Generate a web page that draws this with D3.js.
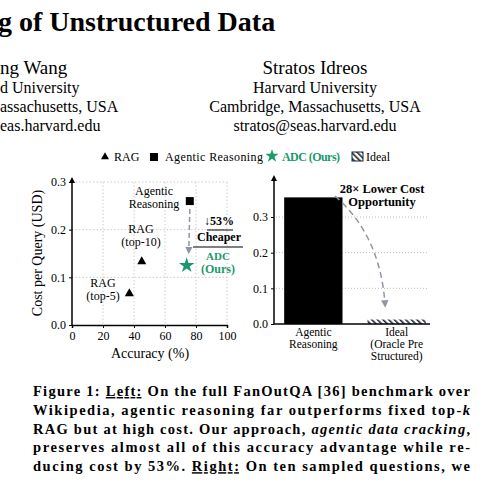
<!DOCTYPE html>
<html>
<head>
<meta charset='utf-8'>
<script src='https://cdn.jsdelivr.net/npm/d3@7'></script>
<style>body{margin:0;background:#fff} text{font-family:'Liberation Serif',serif}</style>
</head>
<body>
<svg width='500' height='480'></svg>
<script>
const svg = d3.select('svg')
const green = '#1a9a6c', gray = '#8e96a3'

// data
const points = [
  { name: 'RAG (top-5)', acc: 37, cost: 0.066, shape: 'tri' },
  { name: 'RAG (top-10)', acc: 45, cost: 0.133, shape: 'tri' },
  { name: 'Agentic Reasoning', acc: 76, cost: 0.26, shape: 'sq' },
  { name: 'ADC (Ours)', acc: 74, cost: 0.125, shape: 'star' }
]
const barCats = ['Agentic Reasoning', 'Ideal']
const barVals = [0.355, 0.0125]
const xTicks = [0, 20, 40, 60, 80, 100]
const yTicks = [0, 0.1, 0.2, 0.3]

// header text
const hdr = svg.append('g')
hdr.append('text').attr('x', -2).attr('y', 31).attr('font-size', 28).attr('font-weight', 'bold').text('g of Unstructured Data')
const aL = ['ng Wang', 'd University', 'assachusetts, USA', 'eas.harvard.edu']
const aR = ['Stratos Idreos', 'Harvard University', 'Cambridge, Massachusetts, USA', 'stratos@seas.harvard.edu']
const aY = [74, 93, 112, 131]
aL.forEach((t, i) => hdr.append('text').attr('x', 0).attr('y', aY[i]).attr('font-size', i ? 16 : 19).text(t))
aR.forEach((t, i) => hdr.append('text').attr('x', 315).attr('y', aY[i]).attr('text-anchor', 'middle').attr('font-size', i ? 16 : 19).text(t))

const defs = svg.append('defs')
defs.append('pattern').attr('id', 'hatch').attr('width', 4).attr('height', 4)
  .attr('patternUnits', 'userSpaceOnUse').attr('patternTransform', 'rotate(-45)')
  .append('rect').attr('width', 1.6).attr('height', 4).attr('fill', '#1a2233')
defs.append('marker').attr('id', 'ah').attr('viewBox', '0 0 10 10').attr('refX', 5).attr('refY', 5)
  .attr('markerWidth', 5).attr('markerHeight', 5).attr('orient', 'auto')
  .append('path').attr('d', 'M0,0L10,5L0,10z').attr('fill', gray)
defs.append('marker').attr('id', 'ax').attr('viewBox', '0 0 10 10').attr('refX', 5).attr('refY', 5)
  .attr('markerWidth', 4).attr('markerHeight', 4).attr('orient', 'auto')
  .append('path').attr('d', 'M0,0L10,5L0,10z').attr('fill', '#000')

// legend
const lg = svg.append('g').attr('font-size', 12)
lg.append('path').attr('d', d3.symbol(d3.symbolTriangle, 28)()).attr('transform', 'translate(105,157)')
lg.append('text').attr('x', 114).attr('y', 161).text('RAG')
lg.append('rect').attr('x', 150).attr('y', 153).attr('width', 8).attr('height', 8)
lg.append('text').attr('x', 165).attr('y', 161).attr('textLength', 98).text('Agentic Reasoning')
lg.append('path').attr('d', d3.symbol(d3.symbolStar, 55)()).attr('transform', 'translate(272,156)').attr('fill', green)
lg.append('text').attr('x', 282).attr('y', 161).attr('fill', green).attr('font-weight', 'bold').attr('textLength', 58).text('ADC (Ours)')
lg.append('rect').attr('x', 352).attr('y', 152).attr('width', 11).attr('height', 9).attr('fill', 'url(#hatch)').attr('stroke', '#1a2233')
lg.append('text').attr('x', 366).attr('y', 161).text('Ideal')

// left scatter
const x = d3.scaleLinear().domain([0, 100]).range([72, 227])
const y = d3.scaleLinear().domain([0, 0.3]).range([325, 182])
const L = svg.append('g')
L.append('g').selectAll('line.gx').data(xTicks.slice(1)).join('line')
  .attr('x1', d => x(d)).attr('x2', d => x(d)).attr('y1', 182).attr('y2', 325)
  .attr('stroke', '#ccc').attr('stroke-dasharray', '1.5,2')
L.append('g').selectAll('line.gy').data(yTicks.slice(1)).join('line')
  .attr('x1', 72).attr('x2', 227).attr('y1', d => y(d)).attr('y2', d => y(d))
  .attr('stroke', '#ccc').attr('stroke-dasharray', '1.5,2')
L.append('g').attr('transform', 'translate(0,325)')
  .call(d3.axisBottom(x).tickValues(xTicks).tickSize(3)).call(g => g.select('.domain').attr('stroke-width', 1.5))
  .selectAll('text').attr('font-size', 12).attr('font-family', 'Liberation Serif')
L.append('g').attr('transform', 'translate(72,0)')
  .call(d3.axisLeft(y).tickValues(yTicks).tickFormat(d3.format('.1f')).tickSize(3))
  .call(g => g.select('.domain').remove())
  .selectAll('text').attr('font-size', 12).attr('font-family', 'Liberation Serif')
L.append('line').attr('x1', 72).attr('x2', 72).attr('y1', 325).attr('y2', 180)
  .attr('stroke', '#000').attr('stroke-width', 1.5).attr('marker-end', 'url(#ax)')
L.append('text').attr('x', 150).attr('y', 358).attr('text-anchor', 'middle').attr('font-size', 14).text('Accuracy (%)')
L.append('text').attr('transform', 'translate(42,253) rotate(-90)').attr('text-anchor', 'middle').attr('font-size', 14).text('Cost per Query (USD)')

const sym = { tri: d3.symbolTriangle, sq: d3.symbolSquare, star: d3.symbolStar }
const sz = { tri: 36, sq: 64, star: 75 }
L.append('line').attr('x1', x(points[2].acc)).attr('y1', y(points[2].cost) + 8)
  .attr('x2', x(points[2].acc) - 1).attr('y2', y(points[3].cost) - 15)
  .attr('stroke', gray).attr('stroke-width', 1.5).attr('stroke-dasharray', '5,3').attr('marker-end', 'url(#ah)')
L.selectAll('path.pt').data(points).join('path')
  .attr('d', d => d3.symbol(sym[d.shape], sz[d.shape])())
  .attr('transform', d => `translate(${x(d.acc)},${y(d.cost)})`)
  .attr('fill', d => d.shape === 'star' ? green : '#000')

const lab = (t, xx, yy, o = {}) => L.append('text').attr('x', xx).attr('y', yy).attr('text-anchor', o.a || 'middle')
  .attr('font-size', o.fs || 12).attr('fill', o.c || '#000').attr('font-weight', o.b ? 'bold' : null).text(t)
lab('Agentic', 154, 195); lab('Reasoning', 154, 208)
lab('RAG', 141, 233); lab('(top-10)', 141, 246)
lab('RAG', 103, 287); lab('(top-5)', 103, 300)
lab('↓53%', 219, 225, { b: 1 })
L.append('line').attr('x1', 207).attr('x2', 233).attr('y1', 230).attr('y2', 230).attr('stroke', '#000')
lab('Cheaper', 219, 241, { b: 1 })
L.append('line').attr('x1', 193).attr('x2', 243).attr('y1', 247).attr('y2', 247).attr('stroke', '#000')
lab('ADC', 218, 260, { b: 1, c: green, fs: 11 }); lab('(Ours)', 218, 273, { b: 1, c: green })

// right bars
const xb = d3.scaleBand().domain(barCats).range([280, 430]).paddingInner(0.3).paddingOuter(0.05)
const yb = d3.scaleLinear().domain([0, 0.3]).range([324, 217])
const R = svg.append('g')
R.selectAll('line.g').data(yTicks.slice(1)).join('line')
  .attr('x1', 276).attr('x2', 427).attr('y1', d => yb(d)).attr('y2', d => yb(d))
  .attr('stroke', '#bbb').attr('stroke-dasharray', '1,2')
R.selectAll('rect').data(barVals).join('rect')
  .attr('x', (d, i) => xb(barCats[i])).attr('width', xb.bandwidth())
  .attr('y', d => yb(d)).attr('height', d => 324 - yb(d))
  .attr('fill', (d, i) => i ? 'url(#hatch)' : '#000')
R.append('g').attr('transform', 'translate(274,0)')
  .call(d3.axisLeft(yb).tickValues(yTicks).tickFormat(d3.format('.1f')).tickSize(3))
  .call(g => g.select('.domain').remove())
  .selectAll('text').attr('font-size', 12).attr('font-family', 'Liberation Serif')
R.append('line').attr('x1', 274).attr('x2', 430).attr('y1', 324).attr('y2', 324).attr('stroke', '#000').attr('stroke-width', 1.5)
R.append('line').attr('x1', 274).attr('x2', 274).attr('y1', 324).attr('y2', 178)
  .attr('stroke', '#000').attr('stroke-width', 1.5).attr('marker-end', 'url(#ax)')
const blab = [['Agentic', 'Reasoning'], ['Ideal', '(Oracle Pre', 'Structured)']]
blab.forEach((ls, i) => ls.forEach((t, j) => R.append('text')
  .attr('x', xb(barCats[i]) + xb.bandwidth() / 2).attr('y', 336 + j * 12)
  .attr('text-anchor', 'middle').attr('font-size', 11.5).text(t)))
R.append('path').attr('d', 'M335,196 Q380,235 385,304').attr('fill', 'none')
  .attr('stroke', gray).attr('stroke-width', 1.5).attr('stroke-dasharray', '6,4').attr('marker-end', 'url(#ah)')
R.append('text').attr('x', 382).attr('y', 193).attr('text-anchor', 'middle').attr('font-size', 12.5).attr('font-weight', 'bold').text('28× Lower Cost')
R.append('text').attr('x', 382).attr('y', 206).attr('text-anchor', 'middle').attr('font-size', 12.5).attr('font-weight', 'bold').text('Opportunity')

// caption
const cap = [
  [['Figure 1: '], ['Left:', 'u'], [' On the full FanOutQA [36] benchmark over']],
  [['Wikipedia, agentic reasoning far outperforms fixed top-'], ['k', 'i']],
  [['RAG but at high cost. Our approach, '], ['agentic data cracking', 'i'], [',']],
  [['preserves almost all of this accuracy advantage while re-']],
  [['ducing cost by 53%. '], ['Right:', 'u'], [' On ten sampled questions, we']]
]
cap.forEach((line, i) => {
  const t = svg.append('text').attr('x', 33).attr('y', 396 + i * 18.8).attr('font-size', 14.5)
    .attr('font-weight', 'bold').attr('textLength', 437).attr('lengthAdjust', 'spacing')
  line.forEach(([s, st]) => t.append('tspan').text(s)
    .attr('font-style', st === 'i' ? 'italic' : null)
    .attr('text-decoration', st === 'u' ? 'underline' : null))
})
</script>
</body>
</html>
